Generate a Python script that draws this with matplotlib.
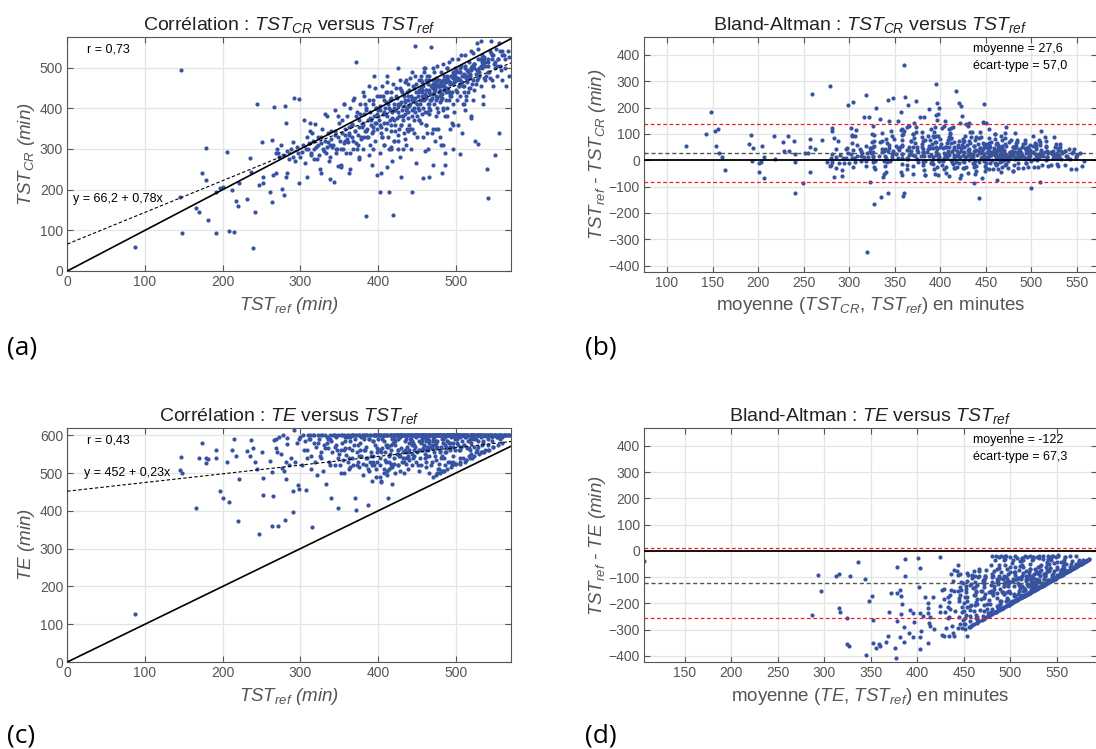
import numpy as np
import matplotlib
matplotlib.use("Agg")
import matplotlib.pyplot as plt

plt.rcParams['font.family'] = ['Liberation Sans', 'DejaVu Sans']
plt.rcParams['mathtext.fontset'] = 'custom'
plt.rcParams['mathtext.rm'] = 'Liberation Sans'
plt.rcParams['mathtext.it'] = 'Liberation Sans:italic'
plt.rcParams['mathtext.bf'] = 'Liberation Sans:bold'

# one entry per night : reference TST, TST from the actimeter (CR), time in bed (TE), minutes
tst_ref = [
    87, 145, 146, 148, 166, 170, 173, 178, 179, 181,
    191, 192, 196, 200, 206, 208, 212, 215, 217, 220,
    221, 231, 235, 236, 239, 241, 244, 247, 251, 252,
    252, 261, 263, 264, 265, 266, 269, 271, 276, 279,
    280, 282, 283, 285, 288, 291, 291, 292, 295, 297,
    298, 298, 268, 272, 275, 278, 281, 283, 293, 270,
    302, 305, 307, 309, 311, 313, 315, 317, 319, 321,
    323, 325, 327, 329, 331, 333, 335, 337, 339, 341,
    343, 345, 346, 348, 349, 351, 352, 354, 355, 356,
    358, 359, 360, 361, 362, 363, 364, 366, 367, 368,
    369, 370, 371, 372, 373, 374, 375, 376, 377, 378,
    379, 380, 381, 382, 383, 384, 385, 386, 387, 388,
    389, 390, 391, 392, 393, 394, 395, 395, 396, 397,
    397, 398, 399, 399, 400,
    401, 402, 403, 403, 404, 405, 406, 407, 407, 408,
    409, 410, 410, 411, 412, 413, 413, 414, 415, 416,
    416, 417, 418, 419, 419, 420, 421, 422, 422, 423,
    424, 425, 425, 426, 427, 428, 428, 429, 430, 431,
    431, 432, 433, 434, 434, 435, 436, 437, 437, 438,
    439, 440, 440, 441, 442, 443, 443, 444, 445, 446,
    446, 447, 447, 448, 449, 449, 450, 404, 412, 418,
    426, 429, 433, 438, 441, 444, 405, 415, 421, 436,
    451, 452, 452, 453, 454, 455, 455, 456, 457, 458,
    458, 459, 460, 460, 461, 462, 462, 463, 464, 465,
    465, 466, 466, 467, 468, 468, 469, 470, 470, 471,
    472, 472, 473, 474, 474, 475, 476, 476, 477, 478,
    478, 479, 480, 480, 481, 482, 482, 483, 484, 485,
    485, 486, 487, 487, 488, 489, 489, 490, 491, 492,
    493, 493, 494, 495, 496, 496, 497, 498, 499, 500,
    453, 457, 461, 464, 469, 473, 477, 481, 486, 491,
    455, 459, 463, 467, 471, 475, 479, 484, 488, 495,
    501, 502, 503, 504, 505, 505, 506, 507, 508, 509,
    510, 511, 512, 513, 514, 515, 516, 517, 518, 519,
    520, 521, 522, 523, 524, 525, 526, 527, 528, 529,
    530, 531, 532, 533, 534, 535, 536, 537, 538, 540,
    541, 542, 543, 544, 545, 546, 547, 548, 549, 550,
    551, 552, 553, 554, 555, 556, 558, 560, 562, 565,
    567, 569, 503, 512, 518, 527, 535, 544, 557, 563,
    380, 382, 384, 386, 388, 390, 392, 394, 396, 398,
    400, 402, 404, 406, 408, 410, 412, 414, 416, 418,
    420, 422, 424, 426, 428, 430, 432, 434, 436, 438,
    440, 442, 444, 446, 448, 450, 452, 454, 456, 458,
    460, 462, 464, 466, 468, 470, 472, 474, 476, 478,
    480, 482, 484, 486, 488, 490, 492, 494, 496, 498,
    500, 502, 504, 506, 508, 510, 512, 514, 516, 518,
    520, 522, 524, 526, 528, 530, 532, 534, 536, 538,
    470, 476, 482, 488, 494, 500, 506, 512, 518, 524,
    530, 536, 542, 548, 554, 560, 466, 474, 486, 497,
    385, 391, 397, 403, 409, 415, 421, 427, 433, 439,
    445, 451, 457, 463, 469, 475, 481, 487, 493, 499,
    505, 511, 517, 523, 529, 535, 541, 547, 553, 559,
    405, 417, 429, 441, 453, 465, 477, 489, 501, 513,
    411, 423, 435, 447, 459, 471, 483, 495, 507, 519,
    363, 367, 373, 377, 383, 387, 393, 357, 347, 338,
    455, 461, 467, 473, 479, 485, 491, 497, 503, 509,
    515, 521, 527, 533, 539, 545, 551, 557, 563, 568,
    425, 431, 437, 443, 449, 457, 465, 473, 481, 489,
    414, 426, 438, 450, 462, 474, 486, 498, 510, 522,
    300, 303, 306, 308, 310, 312, 314, 316, 318, 320,
    322, 324, 326, 328, 330, 332, 334, 336, 338, 340,
    342, 344, 346, 348, 350, 352, 354, 356, 358, 360,
    362, 364, 366, 368, 370, 372, 374, 376, 378, 380,
    326, 338, 352, 364, 376, 388, 394, 402, 408, 416,
    312, 334, 344, 356, 368, 382, 396, 412, 428, 444,
    420, 432, 446, 458, 470, 484, 496, 508, 520, 460,
    478, 485, 492, 499, 506, 513, 520, 527, 534, 541,
]
tst_cr = [
    60, 183, 494, 93, 154, 144, 241, 303, 224, 126,
    195, 93, 205, 206, 292, 98, 200, 96, 172, 160,
    217, 178, 279, 244, 57, 144, 411, 211, 316, 216,
    230, 193, 322, 170, 237, 404, 240, 290, 202, 187,
    405, 363, 295, 275, 300, 280, 318, 426, 305, 290,
    422, 217, 290, 280, 310, 285, 232, 242, 270, 300,
    292, 370, 300, 232, 315, 285, 340, 300, 362, 275,
    310, 250, 330, 300, 385, 290, 318, 270, 345, 305,
    220, 335, 300, 380, 258, 320, 255, 372, 300, 410,
    335, 290, 380, 318, 355, 240, 400, 330, 362, 300,
    425, 345, 515, 315, 390, 335, 280, 372, 410, 325,
    355, 440, 300, 385, 345, 134, 400, 330, 370, 455,
    310, 392, 360, 260, 420, 345, 380, 480, 320, 400,
    365, 235, 430, 350, 395,
    370, 430, 194, 395, 340, 455, 385, 310, 420, 365,
    400, 350, 440, 380, 480, 330, 410, 194, 395, 360,
    425, 300, 390, 138, 460, 370, 410, 345, 395, 430,
    375, 500, 335, 405, 380, 450, 280, 415, 360, 395,
    440, 370, 405, 325, 420, 385, 470, 350, 400, 430,
    390, 360, 445, 410, 300, 194, 420, 380, 455, 400,
    370, 553, 425, 390, 265, 440, 410, 240, 255, 270,
    300, 230, 340, 460, 475, 350, 330, 370, 320, 310,
    430, 470, 395, 445, 410, 480, 365, 440, 420, 228,
    455, 420, 500, 390, 445, 430, 470, 340, 460, 410,
    480, 231, 440, 395, 550, 455, 425, 260, 470, 435,
    410, 490, 450, 380, 465, 430, 505, 400, 455, 440,
    470, 415, 445, 330, 490, 240, 425, 460, 400, 480,
    445, 290, 465, 420, 500, 450, 380, 470, 515, 435,
    460, 350, 480, 440, 490, 410, 300, 465, 500, 445,
    370, 385, 360, 300, 340, 320, 350, 310, 260, 420,
    450, 500, 480, 420, 460, 455, 440, 395, 470, 365,
    470, 440, 520, 455, 288, 490, 430, 505, 465, 410,
    480, 455, 530, 420, 495, 470, 440, 515, 480, 375,
    500, 460, 535, 445, 510, 320, 485, 470, 545, 313,
    480, 520, 455, 565, 500, 430, 525, 470, 505, 250,
    515, 179, 490, 540, 566, 470, 530, 455, 510, 285,
    500, 545, 480, 520, 340, 560, 495, 470, 530, 455,
    540, 480, 360, 395, 450, 560, 410, 475, 505, 520,
    360, 330, 395, 350, 420, 375, 340, 410, 365, 385,
    380, 405, 355, 430, 390, 415, 365, 400, 440, 375,
    400, 360, 425, 390, 410, 445, 380, 415, 395, 420,
    405, 430, 395, 450, 415, 380, 440, 420, 465, 400,
    435, 445, 410, 470, 420, 450, 440, 475, 425, 455,
    460, 435, 470, 450, 480, 445, 465, 430, 475, 485,
    470, 490, 455, 500, 480, 440, 505, 465, 490, 475,
    495, 470, 510, 460, 520, 490, 505, 530, 475, 515,
    450, 470, 455, 475, 480, 495, 470, 500, 485, 510,
    500, 520, 505, 530, 520, 540, 445, 460, 470, 480,
    345, 370, 400, 360, 385, 420, 395, 350, 430, 375,
    420, 400, 445, 390, 455, 420, 465, 440, 430, 470,
    460, 485, 450, 500, 475, 510, 490, 520, 505, 530,
    330, 345, 360, 350, 370, 385, 390, 400, 420, 430,
    440, 450, 465, 480, 490, 500, 510, 520, 530, 540,
    340, 360, 300, 385, 410, 330, 355, 320, 300, 310,
    470, 425, 435, 460, 430, 455, 440, 460, 475, 455,
    480, 505, 495, 520, 480, 535, 515, 540, 500, 525,
    410, 380, 440, 425, 460, 430, 400, 445, 420, 500,
    300, 320, 345, 330, 360, 350, 380, 390, 410, 420,
    280, 310, 265, 330, 300, 345, 290, 320, 275, 305,
    330, 285, 315, 350, 295, 320, 305, 340, 280, 325,
    310, 345, 290, 330, 365, 300, 340, 315, 350, 325,
    335, 290, 360, 320, 345, 380, 310, 355, 330, 365,
    240, 225, 260, 250, 275, 285, 300, 290, 310, 305,
    365, 380, 395, 410, 420, 430, 450, 465, 470, 490,
    320, 300, 340, 330, 350, 310, 360, 340, 380, 295,
    455, 470, 460, 480, 490, 475, 500, 495, 515, 520,
]
te = [
    126, 507, 543, 501, 408, 540, 580, 527, 540, 536,
    560, 540, 453, 434, 530, 424, 560, 590, 545, 373,
    483, 559, 546, 587, 566, 530, 511, 340, 557, 486,
    443, 531, 502, 361, 438, 587, 566, 360, 514, 505,
    375, 484, 594, 520, 540, 396, 453, 614, 580, 468,
    459, 590, 590, 595, 550, 600, 530, 578, 530, 556,
    520, 560, 455, 540, 590, 510, 358, 600, 530, 495,
    580, 545, 600, 505, 565, 470, 590, 530, 435, 555,
    600, 520, 575, 408, 540, 520, 560, 600, 535, 500,
    585, 548, 600, 530, 565, 510, 595, 540, 600, 520,
    575, 435, 600, 402, 555, 530, 600, 515, 580, 545,
    600, 525, 495, 600, 560, 570, 540, 600, 415, 590,
    530, 600, 555, 480, 600, 545, 520, 600, 575, 490,
    600, 555, 530, 600, 560,
    600, 540, 520, 600, 475, 565, 600, 510, 585, 600,
    555, 600, 530, 495, 600, 435, 570, 545, 600, 525,
    600, 560, 515, 580, 600, 540, 600, 500, 575, 600,
    550, 600, 520, 590, 600, 545, 505, 600, 565, 530,
    600, 555, 600, 540, 585, 600, 525, 570, 600, 510,
    600, 560, 535, 600, 590, 550, 600, 520, 580, 600,
    545, 600, 570, 600, 530, 595, 600, 480, 505, 470,
    560, 600, 500, 545, 600, 575, 590, 600, 600, 555,
    600, 560, 585, 600, 540, 600, 520, 595, 600, 565,
    600, 575, 600, 550, 600, 530, 590, 600, 560, 600,
    545, 600, 585, 600, 600, 520, 565, 600, 600, 590,
    600, 555, 600, 580, 600, 535, 600, 570, 600, 525,
    600, 500, 560, 600, 600, 545, 600, 580, 505, 595,
    540, 600, 600, 570, 600, 585, 600, 530, 600, 600,
    600, 560, 595, 600, 545, 600, 580, 600, 590, 600,
    505, 560, 515, 590, 575, 545, 510, 600, 555, 580,
    580, 600, 570, 600, 600, 600, 555, 600, 600, 520,
    600, 580, 600, 560, 600, 595, 530, 570, 600, 540,
    600, 575, 600, 535, 565, 600, 585, 545, 600, 580,
    600, 540, 600, 570, 600, 600, 555, 600, 585, 600,
    600, 600, 555, 600, 575, 600, 600, 560, 600, 600,
    600, 600, 560, 600, 600, 595, 600, 570, 600, 600,
    600, 600, 595, 600, 600, 600, 600, 595, 600, 600,
    600, 600, 575, 600, 560, 600, 585, 600, 590, 600,
    595, 560, 600, 540, 590, 600, 520, 585, 600, 565,
    590, 600, 555, 598, 600, 575, 600, 530, 600, 590,
    600, 585, 600, 560, 595, 600, 540, 600, 590, 600,
    580, 600, 600, 575, 598, 600, 560, 600, 590, 600,
    600, 585, 600, 600, 570, 600, 595, 600, 585, 600,
    600, 590, 600, 575, 600, 600, 580, 600, 598, 600,
    600, 590, 600, 600, 585, 600, 595, 600, 600, 590,
    600, 598, 600, 590, 600, 600, 595, 600, 600, 598,
    490, 500, 505, 510, 515, 525, 525, 530, 540, 545,
    550, 555, 560, 570, 575, 580, 500, 495, 520, 530,
    520, 545, 510, 560, 535, 550, 525, 545, 530, 555,
    540, 520, 560, 545, 530, 565, 540, 555, 570, 560,
    560, 575, 565, 590, 570, 580, 590, 585, 595, 600,
    600, 575, 600, 590, 600, 570, 600, 585, 600, 595,
    575, 600, 560, 600, 595, 600, 590, 600, 600, 600,
    540, 600, 520, 560, 600, 510, 585, 595, 560, 590,
    600, 600, 600, 600, 600, 600, 600, 600, 600, 600,
    600, 600, 600, 600, 600, 600, 600, 600, 600, 600,
    600, 600, 600, 600, 600, 585, 580, 575, 570, 565,
    510, 520, 540, 555, 560, 585, 595, 600, 600, 600,
    595, 600, 585, 560, 600, 590, 545, 600, 580, 570,
    600, 590, 555, 600, 575, 600, 595, 565, 600, 585,
    600, 570, 595, 600, 550, 600, 580, 600, 565, 595,
    600, 585, 560, 600, 590, 600, 575, 600, 595, 600,
    540, 520, 500, 515, 545, 505, 530, 490, 500, 515,
    600, 580, 600, 560, 600, 590, 600, 570, 600, 585,
    590, 600, 560, 600, 585, 600, 570, 600, 590, 540,
    510, 505, 530, 525, 540, 535, 550, 560, 555, 575,
]

# statistics printed on the figure
reg_cr = (66.2, 0.78)
reg_te = (452, 0.23)
r_cr, r_te = "0,73", "0,43"
mean_cr, sd_cr = 27.6, 57.0
mean_te, sd_te = -122, 67.3

ref = np.array(tst_ref, float)
cr = np.array(tst_cr, float)
tb = np.array(te, float)

BLUE = '#3552a3'
GRID = '#e4e4e4'
AXC = '#555555'
W, H = 1096, 749

fig = plt.figure(figsize=(W / 100, H / 100), dpi=100)


def px_axes(l, t, r, b):
    return fig.add_axes([l / W, 1 - b / H, (r - l) / W, (b - t) / H])


def style(ax, xticks, yticks):
    ax.set_xticks(xticks)
    ax.set_yticks(yticks)
    ax.grid(True, color=GRID, lw=0.9)
    ax.set_axisbelow(True)
    ax.tick_params(direction='in', top=True, right=True, length=4, width=0.8,
                   color=AXC, labelcolor=AXC, labelsize=10, pad=3)
    for s in ax.spines.values():
        s.set_color(AXC)
        s.set_linewidth(0.8)


def dots(ax, x, y):
    ax.scatter(x, y, s=9, marker='o', color=BLUE, linewidths=0, zorder=2)


def bland_altman(ax, m, sd):
    ax.axhline(0, color='black', lw=1.3, zorder=3)
    ax.axhline(m, color='#555555', lw=1.0, ls=(0, (3, 2)), zorder=3)
    ax.axhline(m + 1.96 * sd, color='#e8202a', lw=0.9, ls=(0, (3, 2)), zorder=3)
    ax.axhline(m - 1.96 * sd, color='#e8202a', lw=0.9, ls=(0, (3, 2)), zorder=3)


lab = dict(fontsize=13.5, color='#555555')
tit = dict(fontsize=14, color='#222222', pad=5)

# (a) correlation TST_CR
ax = px_axes(67.3, 36.7, 511, 271)
dots(ax, ref, cr)
xx = np.array([0, 600])
ax.plot(xx, xx, color='black', lw=1.2, zorder=3)
ax.plot(xx, reg_cr[0] + reg_cr[1] * xx, color='black', lw=0.8, ls=(0, (3, 2)), zorder=3)
ax.set_xlim(0, 571)
ax.set_ylim(0, 576)
style(ax, range(0, 501, 100), range(0, 501, 100))
ax.set_title('Corrélation : $TST_{CR}$ versus $TST_{ref}$', **tit)
ax.set_xlabel('$TST_{ref}$ (min)', fontstyle='italic', **lab)
ax.set_ylabel('$TST_{CR}$ (min)', fontstyle='italic', labelpad=2, **lab)
ax.text(0.044, 0.947, 'r = ' + r_cr, transform=ax.transAxes, fontsize=9, va='center')
ax.text(7, 177, 'y = 66,2 + 0,78x', fontsize=9, va='center')

# (b) Bland-Altman TST_CR
ax = px_axes(644, 37.3, 1097, 271.7)
dots(ax, (ref + cr) / 2, ref - cr)
bland_altman(ax, mean_cr, sd_cr)
ax.set_xlim(74.8, 572)
ax.set_ylim(-423, 467)
style(ax, range(100, 551, 50), range(-400, 401, 100))
ax.set_title('Bland-Altman : $TST_{CR}$ versus $TST_{ref}$', **tit)
ax.set_xlabel('moyenne ($TST_{CR}$, $TST_{ref}$) en minutes', **lab)
ax.set_ylabel('$TST_{ref}$ - $TST_{CR}$ (min)', fontstyle='italic', labelpad=0, **lab)
ax.text(436, 423, 'moyenne = 27,6', fontsize=9, va='center')
ax.text(436, 359, 'écart-type = 57,0', fontsize=9, va='center')

# (c) correlation TE
ax = px_axes(67.3, 427.7, 511, 662)
dots(ax, ref, tb)
ax.plot(xx, xx, color='black', lw=1.2, zorder=3)
ax.plot(xx, reg_te[0] + reg_te[1] * xx, color='black', lw=0.8, ls=(0, (3, 2)), zorder=3)
ax.set_xlim(0, 571)
ax.set_ylim(0, 620)
style(ax, range(0, 501, 100), range(0, 601, 100))
ax.set_title('Corrélation : $TE$ versus $TST_{ref}$', **tit)
ax.set_xlabel('$TST_{ref}$ (min)', fontstyle='italic', **lab)
ax.set_ylabel('$TE$ (min)', fontstyle='italic', labelpad=2, **lab)
ax.text(0.044, 0.947, 'r = ' + r_te, transform=ax.transAxes, fontsize=9, va='center')
ax.text(22, 501, 'y = 452 + 0,23x', fontsize=9, va='center')

# (d) Bland-Altman TE
ax = px_axes(644, 428.3, 1097, 662.3)
dots(ax, (ref + tb) / 2, ref - tb)
bland_altman(ax, mean_te, sd_te)
ax.set_xlim(106, 593)
ax.set_ylim(-424, 467)
style(ax, range(150, 551, 50), range(-400, 401, 100))
ax.set_title('Bland-Altman : $TE$ versus $TST_{ref}$', **tit)
ax.set_xlabel('moyenne ($TE$, $TST_{ref}$) en minutes', **lab)
ax.set_ylabel('$TST_{ref}$ - $TE$ (min)', fontstyle='italic', labelpad=0, **lab)
ax.text(460, 423, 'moyenne = -122', fontsize=9, va='center')
ax.text(460, 359, 'écart-type = 67,3', fontsize=9, va='center')

for txt, x, y in [('(a)', 7, 348), ('(b)', 585, 348), ('(c)', 7, 736), ('(d)', 585, 736)]:
    fig.text(x / W, 1 - y / H, txt, fontsize=19, va='center', family=['Open Sans', 'DejaVu Sans'])

fig.savefig('out.png', dpi=100)
